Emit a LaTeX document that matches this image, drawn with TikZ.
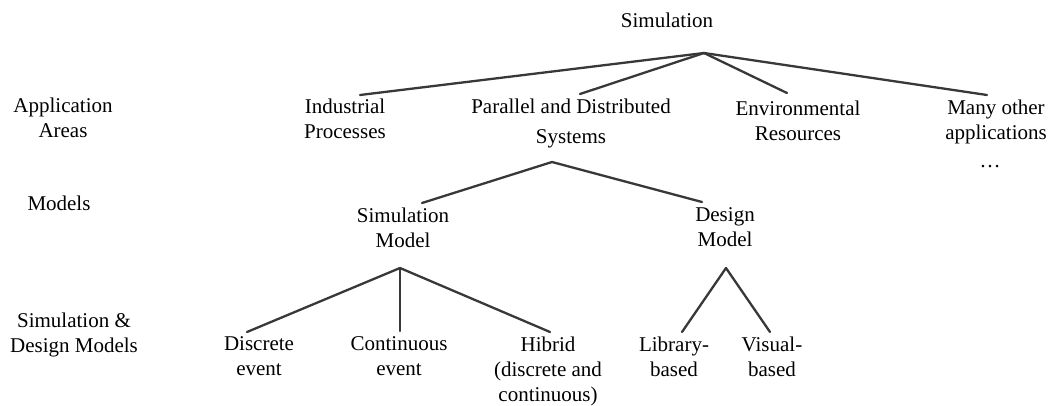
\documentclass[tikz,border=0pt]{standalone}
\usepackage{fontspec}
\setmainfont{Liberation Serif}
\begin{document}
\begin{tikzpicture}[x=1pt,y=-1pt,
  lbl/.style={anchor=north,inner sep=0pt,align=center,font=\fontsize{21}{25}\selectfont},
  edge/.style={draw=black!78,line width=2.3pt,line cap=round}]
\useasboundingbox (0,0) rectangle (1050,405);
% left row labels
\node[lbl] (appl) at (63,97.5) {Application\\Areas};
\node[lbl] (mods) at (59,195.5) {Models};
\node[lbl] (sdm) at (74,312.5) {Simulation \&\\Design Models};
% tree nodes
\node[lbl] (sim) at (667,12.5) {Simulation};
\node[lbl] (ind) at (345,98.5) {Industrial\\Processes};
\node[lbl] (par) at (571,98.5) {Parallel and Distributed\\[5pt]Systems};
\node[lbl] (env) at (798,100.5) {Environmental\\Resources};
\node[lbl] (many) at (996,100) {Many other\\applications\\[3pt]\hspace*{-12pt}\ldots};
\node[lbl] (simm) at (403,208) {Simulation\\Model};
\node[lbl] (desm) at (725,207.5) {Design\\Model};
\node[lbl] (disc) at (259,336.5) {Discrete\\event};
\node[lbl] (cont) at (399,336.5) {Continuous\\event};
\node[lbl] (hib) at (548,336.5) {Hibrid\\(discrete and\\continuous)};
\node[lbl] (lib) at (674,336.5) {Library-\\based};
\node[lbl] (vis) at (772,336.5) {Visual-\\based};
% branch points
\coordinate (a1) at (704,53);
\coordinate (a2) at (552,162);
\coordinate (a3) at (400,268);
\coordinate (a4) at (726,268);
% connectors
\draw[edge] (a1) -- ([xshift=15pt,yshift=3.5pt]ind.north);
\draw[edge] (a1) -- ([xshift=9pt,yshift=4.5pt]par.north);
\draw[edge] (a1) -- ([xshift=-11pt,yshift=7.5pt]env.north);
\draw[edge] (a1) -- ([xshift=-9pt,yshift=5pt]many.north);
\draw[edge] (a2) -- ([xshift=19pt,yshift=5pt]simm.north);
\draw[edge] (a2) -- ([xshift=-23pt,yshift=5.5pt]desm.north);
\draw[edge] (a3) -- ([xshift=-12pt,yshift=4.5pt]disc.north);
\draw[edge] (a3) -- ([xshift=1pt,yshift=5.5pt]cont.north);
\draw[edge] (a3) -- ([xshift=2pt,yshift=4.5pt]hib.north);
\draw[edge] (a4) -- ([xshift=8pt,yshift=4.5pt]lib.north);
\draw[edge] (a4) -- ([xshift=-2pt,yshift=4.5pt]vis.north);
\end{tikzpicture}
\end{document}
